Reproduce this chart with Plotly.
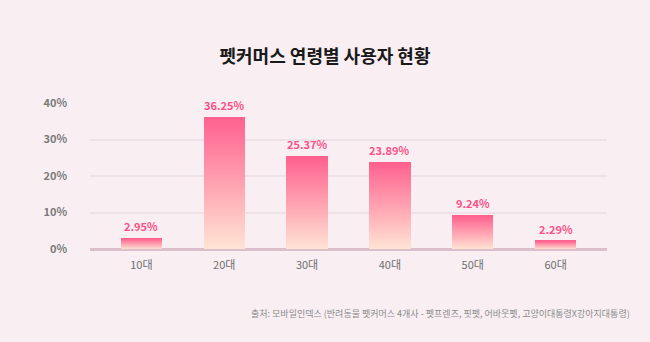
import plotly.graph_objects as go

# Age-group share of pet-commerce users (%)
age_groups = ["10대", "20대", "30대", "40대", "50대", "60대"]
share_pct = [2.95, 36.25, 25.37, 23.89, 9.24, 2.29]
y_ticks = [0, 10, 20, 30, 40]
y_tick_labels = ["0%", "10%", "20%", "30%", "40%"]

TITLE = "펫커머스 연령별 사용자 현황"
SOURCE = "출처: 모바일인덱스 (반려동물 펫커머스 4개사 - 펫프렌즈, 핏펫, 어바웃펫, 고양이대통령X강아지대통령)"

BG = "#f9eff3"
TOP = (255, 96, 142)
BOTTOM = (255, 228, 212)
N_STEPS = 48
FONT = "Noto Sans CJK KR"


def blend(t):
    r, g, b = (round(BOTTOM[i] + (TOP[i] - BOTTOM[i]) * t) for i in range(3))
    return f"rgb({r},{g},{b})"


fig = go.Figure()

# Each bar is built from stacked slices so it fades from pink (top) to peach (bottom)
for k in range(N_STEPS):
    t = (k + 0.5) / N_STEPS
    fig.add_trace(go.Bar(
        x=age_groups,
        y=[v / N_STEPS for v in share_pct],
        marker=dict(color=blend(t), line=dict(width=0)),
        width=0.5,
        hoverinfo="skip",
        showlegend=False,
    ))

# Value labels above each bar
value_labels = [
    dict(
        x=cat,
        y=v,
        xref="x",
        yref="y",
        text=f"{v:.2f}%",
        showarrow=False,
        xanchor="center",
        yanchor="bottom",
        yshift=2,
        font=dict(family=FONT, size=11, color="#ff4f86", weight="bold"),
    )
    for cat, v in zip(age_groups, share_pct)
]

source_note = dict(
    text=SOURCE,
    xref="paper",
    yref="paper",
    x=1 + 25 / 517,
    y=-(313 - 249) / 146,
    xanchor="right",
    yanchor="middle",
    showarrow=False,
    font=dict(family=FONT, size=9, color="#8a8a8a"),
)

fig.update_layout(
    width=650,
    height=342,
    barmode="stack",
    bargap=0,
    paper_bgcolor=BG,
    plot_bgcolor=BG,
    margin=dict(l=90, r=43, t=103, b=93),
    font=dict(family=FONT),
    title=dict(
        text=TITLE,
        x=0.5,
        xanchor="center",
        y=1 - 57 / 342,
        yanchor="middle",
        font=dict(family=FONT, size=18, color="#1a1a1a", weight="bold"),
    ),
    xaxis=dict(
        range=[-0.62, 5.62],
        showgrid=False,
        showline=False,
        zeroline=False,
        ticks="",
        ticklabelstandoff=8,
        tickfont=dict(family=FONT, size=11, color="#6e6e6e"),
        fixedrange=True,
    ),
    yaxis=dict(
        range=[0, 40],
        tickvals=y_ticks,
        ticktext=y_tick_labels,
        showgrid=True,
        gridcolor="#eee1e7",
        gridwidth=1.5,
        zeroline=True,
        zerolinecolor="#dcbfcb",
        zerolinewidth=2.5,
        showline=False,
        ticks="",
        ticklabelstandoff=22,
        tickfont=dict(family=FONT, size=11, color="#7a7a7a", weight="bold"),
        fixedrange=True,
    ),
    annotations=value_labels + [source_note],
)

fig.write_html("out.html")
